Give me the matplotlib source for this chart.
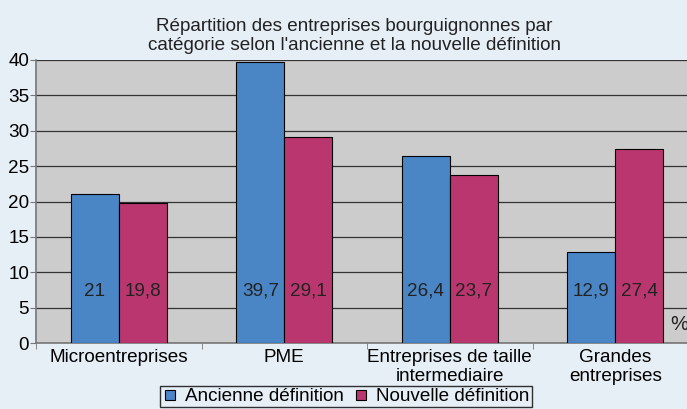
import matplotlib
matplotlib.use("Agg")
import matplotlib.pyplot as plt
import numpy as np
from matplotlib.lines import Line2D

categories = ["Microentreprises", "PME", "Entreprises de taille\nintermediaire", "Grandes\nentreprises"]
ancienne = [21, 39.7, 26.4, 12.9]
nouvelle = [19.8, 29.1, 23.7, 27.4]
ancienne_labels = ["21", "39,7", "26,4", "12,9"]
nouvelle_labels = ["19,8", "29,1", "23,7", "27,4"]
series_names = ["Ancienne définition", "Nouvelle définition"]
title = "Répartition des entreprises bourguignonnes par\ncatégorie selon l'ancienne et la nouvelle définition"

plt.rcParams['font.family'] = ['Liberation Sans', 'DejaVu Sans']
FS = 13.6
BG = "#E6EEF6"
BLUE = "#4A86C6"
MAG = "#B9376E"

W, H = 687, 409
fig = plt.figure(figsize=(W/100, H/100), dpi=100, facecolor=BG)
left, right, top, bottom = 36, 698, 60, 343
ax = fig.add_axes([left/W, 1-bottom/H, (right-left)/W, (bottom-top)/H])
ax.set_facecolor("#CCCCCC")

x = np.arange(len(categories))
bw = 0.29
ax.bar(x - bw/2, ancienne, bw, color=BLUE, edgecolor="black", linewidth=0.8, zorder=3)
ax.bar(x + bw/2, nouvelle, bw, color=MAG, edgecolor="black", linewidth=0.8, zorder=3)
for xi, lab in zip(x, ancienne_labels):
    ax.text(xi - bw/2, 7.3, lab, ha="center", va="center", fontsize=FS, color="#222222", zorder=4)
for xi, lab in zip(x, nouvelle_labels):
    ax.text(xi + bw/2, 7.3, lab, ha="center", va="center", fontsize=FS, color="#222222", zorder=4)

ax.set_xlim(-0.5, len(categories) - 0.5)
ax.set_ylim(0, 40)
ax.set_yticks(np.arange(0, 41, 5))
ax.yaxis.grid(True, color="#333333", linewidth=0.9, zorder=1)
ax.set_axisbelow(True)
ax.tick_params(axis="y", labelsize=FS, length=4, pad=1, labelcolor="black", color="#777777")
ax.set_xticks(x)
ax.set_xticklabels(categories, fontsize=FS, linespacing=1.15)
ax.tick_params(axis="x", length=0, pad=4)
ax.set_xticks(np.arange(-0.5, len(categories), 1), minor=True)
ax.tick_params(axis="x", which="minor", length=4, color="#777777")
for s in ["top", "right"]:
    ax.spines[s].set_visible(False)
ax.spines["left"].set_color("#777777")
ax.spines["bottom"].set_color("#777777")
ax.spines["left"].set_linewidth(1.2)
ax.spines["bottom"].set_linewidth(1.2)

ax.text(679/W, 1-325/H, "%", transform=fig.transFigure, fontsize=FS+1, ha="center", va="center", color="#222222")

fig.text(354/W, 1-36/H, title, ha="center", va="center", fontsize=FS, linespacing=1.15, color="#222222")

handles = [Line2D([], [], marker="s", linestyle="none", markersize=6.5, markerfacecolor=c,
                  markeredgecolor="black", markeredgewidth=0.8) for c in (BLUE, MAG)]
leg = fig.legend(handles, series_names, loc="center", bbox_to_anchor=(346/W, 1-396.5/H),
                 ncol=2, fontsize=FS, frameon=True, fancybox=False, edgecolor="black",
                 facecolor=BG, handlelength=0.8, handletextpad=0.4, columnspacing=0.5,
                 borderpad=0.12, borderaxespad=0)
leg.get_frame().set_linewidth(1.0)

fig.savefig("out.png", dpi=100, facecolor=BG)
